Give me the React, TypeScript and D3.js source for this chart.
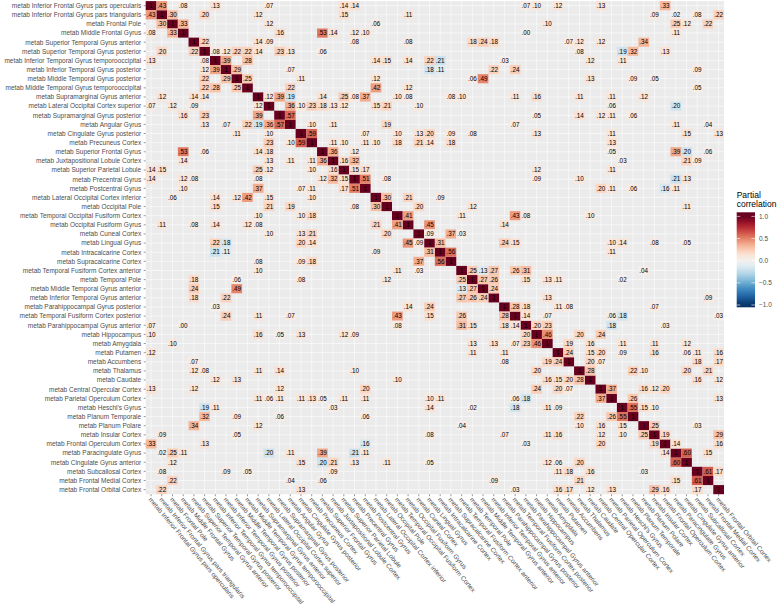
import React from "react";
import * as d3 from "d3";

const regions: string[] = [
  "metab Inferior Frontal Gyrus pars opercularis",
  "metab Inferior Frontal Gyrus pars triangularis",
  "metab Frontal Pole",
  "metab Middle Frontal Gyrus",
  "metab Superior Temporal Gyrus anterior",
  "metab Superior Temporal Gyrus posterior",
  "metab Inferior Temporal Gyrus temporooccipital",
  "metab Inferior Temporal Gyrus posterior",
  "metab Middle Temporal Gyrus posterior",
  "metab Middle Temporal Gyrus temporooccipital",
  "metab Supramarginal Gyrus anterior",
  "metab Lateral Occipital Cortex superior",
  "metab Supramarginal Gyrus posterior",
  "metab Angular Gyrus",
  "metab Cingulate Gyrus posterior",
  "metab Precuneus Cortex",
  "metab Superior Frontal Gyrus",
  "metab Juxtapositional Lobule Cortex",
  "metab Superior Parietal Lobule",
  "metab Precentral Gyrus",
  "metab Postcentral Gyrus",
  "metab Lateral Occipital Cortex inferior",
  "metab Occipital Pole",
  "metab Temporal Occipital Fusiform Cortex",
  "metab Occipital Fusiform Gyrus",
  "metab Cuneal Cortex",
  "metab Lingual Gyrus",
  "metab Intracalcarine Cortex",
  "metab Supracalcarine Cortex",
  "metab Temporal Fusiform Cortex anterior",
  "metab Temporal Pole",
  "metab Middle Temporal Gyrus anterior",
  "metab Inferior Temporal Gyrus anterior",
  "metab Parahippocampal Gyrus posterior",
  "metab Temporal Fusiform Cortex posterior",
  "metab Parahippocampal Gyrus anterior",
  "metab Hippocampus",
  "metab Amygdala",
  "metab Putamen",
  "metab Accumbens",
  "metab Thalamus",
  "metab Caudate",
  "metab Central Opercular Cortex",
  "metab Parietal Operculum Cortex",
  "metab Heschl's Gyrus",
  "metab Planum Temporale",
  "metab Planum Polare",
  "metab Insular Cortex",
  "metab Frontal Operculum Cortex",
  "metab Paracingulate Gyrus",
  "metab Cingulate Gyrus anterior",
  "metab Subcallosal Cortex",
  "metab Frontal Medial Cortex",
  "metab Frontal Orbital Cortex",
];

// upper triangle of the partial correlation matrix: [row, column, value], 1-based
const pairs: [number, number, number][] = [
  [1, 2, 0.43], [1, 4, 0.08], [1, 7, 0.13], [1, 12, 0.07], [1, 19, 0.14], [1, 20, 0.14], [1, 36, 0.07], [1, 37, 0.10], [1, 39, 0.12], [1, 43, 0.13], [1, 49, 0.33],
  [2, 3, 0.30], [2, 6, 0.20], [2, 11, 0.12], [2, 19, 0.15], [2, 25, 0.11], [2, 48, 0.09], [2, 50, 0.02], [2, 52, 0.08], [2, 54, 0.22],
  [3, 4, 0.33], [3, 12, 0.12], [3, 22, 0.06], [3, 38, 0.10], [3, 50, 0.25], [3, 51, 0.12], [3, 53, 0.22],
  [4, 13, 0.16], [4, 17, 0.53], [4, 18, 0.14], [4, 20, 0.12], [4, 21, 0.10], [4, 36, 0.004], [4, 50, 0.11],
  [5, 6, 0.22], [5, 11, 0.14], [5, 12, 0.09], [5, 20, 0.08], [5, 25, 0.08], [5, 31, 0.18], [5, 32, 0.24], [5, 33, 0.18], [5, 40, 0.07], [5, 41, 0.12], [5, 43, 0.12], [5, 47, 0.34],
  [6, 7, 0.08], [6, 8, 0.12], [6, 9, 0.22], [6, 10, 0.22], [6, 11, 0.14], [6, 13, 0.23], [6, 14, 0.13], [6, 17, 0.06], [6, 41, 0.08], [6, 45, -0.19], [6, 46, 0.32], [6, 49, 0.13],
  [7, 8, 0.39], [7, 10, 0.28], [7, 22, 0.14], [7, 23, 0.15], [7, 25, 0.14], [7, 27, 0.22], [7, 28, -0.21], [7, 34, 0.03], [7, 42, 0.12], [7, 45, 0.11],
  [8, 9, 0.29], [8, 14, 0.07], [8, 27, -0.18], [8, 28, -0.11], [8, 33, 0.22], [8, 35, 0.24], [8, 52, 0.09],
  [9, 10, 0.25], [9, 15, 0.11], [9, 22, 0.12], [9, 31, 0.06], [9, 32, 0.49], [9, 42, 0.13], [9, 46, 0.09], [9, 48, 0.05],
  [10, 14, 0.22], [10, 22, 0.42], [10, 25, 0.12], [10, 52, 0.05],
  [11, 12, 0.12], [11, 13, 0.39], [11, 14, -0.19], [11, 17, 0.14], [11, 19, 0.25], [11, 20, 0.08], [11, 21, 0.37], [11, 24, 0.10], [11, 25, 0.08], [11, 29, 0.08], [11, 30, 0.10], [11, 35, 0.11], [11, 37, 0.16], [11, 41, 0.11], [11, 44, 0.11], [11, 47, 0.12],
  [12, 14, 0.36], [12, 15, 0.10], [12, 16, 0.23], [12, 17, 0.18], [12, 18, 0.13], [12, 19, 0.12], [12, 22, 0.15], [12, 23, 0.21], [12, 26, 0.10], [12, 44, 0.06], [12, 50, -0.20],
  [13, 14, 0.57], [13, 37, 0.05], [13, 41, 0.14], [13, 43, 0.12], [13, 44, 0.11], [13, 46, 0.06],
  [14, 16, 0.10], [14, 18, 0.11], [14, 23, 0.19], [14, 35, 0.07], [14, 50, 0.11], [14, 53, 0.04],
  [15, 16, 0.59], [15, 21, 0.07], [15, 24, 0.10], [15, 26, 0.13], [15, 27, 0.20], [15, 29, 0.09], [15, 31, 0.08], [15, 37, 0.13], [15, 44, 0.11], [15, 51, 0.15], [15, 54, 0.13],
  [16, 18, 0.11], [16, 19, 0.10], [16, 21, 0.11], [16, 22, 0.10], [16, 24, 0.18], [16, 26, 0.21], [16, 27, 0.14], [16, 29, 0.18], [16, 44, 0.13],
  [17, 18, 0.36], [17, 20, 0.12], [17, 44, 0.05], [17, 50, 0.39], [17, 51, -0.20], [17, 53, 0.06],
  [18, 19, 0.16], [18, 20, 0.32], [18, 45, 0.03], [18, 51, 0.21], [18, 52, 0.09],
  [19, 20, 0.15], [19, 21, 0.17], [19, 37, 0.12], [19, 44, 0.11],
  [20, 21, 0.51], [20, 23, 0.08], [20, 37, 0.09], [20, 41, 0.10], [20, 50, -0.21], [20, 51, 0.13],
  [21, 43, 0.20], [21, 44, 0.11], [21, 46, 0.06], [21, 49, -0.16], [21, 50, 0.11],
  [22, 23, 0.30], [22, 25, 0.21], [22, 28, 0.09],
  [23, 26, 0.20], [23, 31, 0.12], [23, 51, 0.11],
  [24, 25, 0.41], [24, 30, 0.11], [24, 35, 0.43], [24, 36, 0.08], [24, 42, 0.10],
  [25, 27, 0.45], [25, 34, 0.14],
  [26, 27, 0.09], [26, 29, 0.37], [26, 30, 0.03],
  [27, 28, 0.31], [27, 34, 0.24], [27, 35, 0.15], [27, 44, 0.10], [27, 45, 0.14], [27, 48, 0.08], [27, 51, 0.05],
  [28, 29, 0.56], [28, 44, 0.11],
  [30, 31, 0.25], [30, 32, -0.13], [30, 33, 0.27], [30, 35, 0.26], [30, 36, 0.31], [30, 47, 0.04],
  [31, 32, 0.27], [31, 33, 0.26], [31, 36, 0.15], [31, 38, 0.13], [31, 39, 0.11], [31, 45, 0.02],
  [32, 33, 0.24],
  [33, 38, 0.13], [33, 53, 0.09],
  [34, 35, 0.28], [34, 36, 0.18], [34, 39, 0.11], [34, 40, 0.08], [34, 48, 0.07],
  [35, 36, 0.14], [35, 38, 0.07], [35, 44, 0.06], [35, 45, -0.18], [35, 54, 0.03],
  [36, 37, 0.20], [36, 38, 0.23], [36, 44, -0.18], [36, 49, 0.03],
  [37, 38, 0.46], [37, 41, 0.20], [37, 43, 0.24],
  [38, 40, 0.19], [38, 42, 0.16], [38, 45, 0.11], [38, 48, 0.11], [38, 51, 0.12],
  [39, 40, 0.24], [39, 42, 0.15], [39, 43, 0.20], [39, 45, 0.09], [39, 48, 0.16], [39, 51, 0.06], [39, 52, 0.11], [39, 54, 0.16],
  [40, 42, 0.20], [40, 43, 0.07], [40, 52, 0.18], [40, 54, 0.17],
  [41, 42, 0.28], [41, 46, 0.22], [41, 47, 0.10], [41, 51, 0.20], [41, 53, 0.21],
  [42, 52, 0.16], [42, 54, 0.12],
  [43, 44, 0.37], [43, 47, 0.16], [43, 48, 0.12], [43, 49, 0.20],
  [44, 46, 0.26], [44, 54, 0.13],
  [45, 46, 0.55], [45, 47, 0.15], [45, 48, 0.10],
  [47, 48, 0.25], [47, 52, 0.03],
  [48, 49, 0.19], [48, 54, 0.29],
  [49, 50, 0.14], [49, 54, 0.16],
  [50, 51, 0.60], [50, 53, 0.15],
  [52, 53, 0.61], [52, 54, 0.17],
];

const legendTicks: number[] = [1, 0.5, 0, -0.5, -1];
const legendTitle: string[] = ["Partial", "correlation"];

const W = 779;
const H = 611;
const P = { left: 145.7, right: 724, top: 1.1, bottom: 494.2 };
const FONT = "'Liberation Sans', Arial, Helvetica, sans-serif";

const fill = (v: number) => d3.interpolateRdBu((1 - v) / 2);
const fmt = (v: number) =>
  v === 1 ? "1" : d3.format(".2f")(Math.abs(v)).replace(/^0/, "");

export default function App() {
  const x = d3.scaleBand<string>().domain(regions).range([P.left, P.right]);
  const y = d3.scaleBand<string>().domain(regions).range([P.top, P.bottom]);
  const bw = x.bandwidth();
  const bh = y.bandwidth();

  const cells: { r: string; c: string; v: number }[] = [];
  regions.forEach((r) => cells.push({ r, c: r, v: 1 }));
  pairs.forEach(([i, j, v]) => {
    cells.push({ r: regions[i - 1], c: regions[j - 1], v });
    cells.push({ r: regions[j - 1], c: regions[i - 1], v });
  });

  const legY = d3.scaleLinear().domain([1, -1]).range([216.4, 305]);
  const bar = { x: 736.7, w: 18.3, top: 212.3, bottom: 307.3 };
  const gradStops = d3.range(0, 1.0001, 0.05);

  return (
    <svg
      width={W}
      height={H}
      style={{ position: "absolute", left: 0, top: 0, background: "#fff" }}
      fontFamily={FONT}
    >
      <defs>
        <linearGradient id="legGrad" x1="0" y1="0" x2="0" y2="1">
          {gradStops.map((t) => {
            const v = legY.invert(bar.top + t * (bar.bottom - bar.top));
            return (
              <stop key={t} offset={t} stopColor={fill(Math.max(-1, Math.min(1, v)))} />
            );
          })}
        </linearGradient>
      </defs>
      <rect x={P.left} y={P.top} width={P.right - P.left} height={P.bottom - P.top} fill="#EBEBEB" />
      <g stroke="#fff" strokeWidth={0.55}>
        {regions.map((r) => (
          <line key={"gx" + r} x1={x(r)! + bw / 2} x2={x(r)! + bw / 2} y1={P.top} y2={P.bottom} />
        ))}
        {regions.map((r) => (
          <line key={"gy" + r} y1={y(r)! + bh / 2} y2={y(r)! + bh / 2} x1={P.left} x2={P.right} />
        ))}
      </g>
      <g>
        {cells.map((d, k) => (
          <rect key={"c" + k} x={x(d.c)} y={y(d.r)} width={bw} height={bh} fill={fill(d.v)} />
        ))}
      </g>
      <g fontSize={6.3} fill="#000" textAnchor="middle">
        {cells.map((d, k) => (
          <text key={"t" + k} x={x(d.c)! + bw / 2} y={y(d.r)! + bh / 2} dy="0.36em">
            {fmt(d.v)}
          </text>
        ))}
      </g>
      <g fontSize={6.5} fill="#4D4D4D" textAnchor="end">
        {regions.map((r) => (
          <text key={"yl" + r} x={P.left - 4.5} y={y(r)! + bh / 2} dy="0.36em">
            {r}
          </text>
        ))}
      </g>
      <g stroke="#333" strokeWidth={0.5}>
        {regions.map((r) => (
          <line key={"yt" + r} x1={P.left - 2} x2={P.left} y1={y(r)! + bh / 2} y2={y(r)! + bh / 2} />
        ))}
        {regions.map((r) => (
          <line key={"xt" + r} y1={P.bottom} y2={P.bottom + 2} x1={x(r)! + bw / 2} x2={x(r)! + bw / 2} />
        ))}
      </g>
      <g fontSize={6.5} fill="#4D4D4D" textAnchor="start">
        {regions.map((r) => (
          <text
            key={"xl" + r}
            transform={`translate(${x(r)! + bw / 2 - 1},${P.bottom + 4}) rotate(50)`}
            dy="0.36em"
          >
            {r}
          </text>
        ))}
      </g>
      <g>
        {legendTitle.map((s, i) => (
          <text key={s} x={bar.x} y={198 + i * 9.3} fontSize={8.5} fill="#000">
            {s}
          </text>
        ))}
        <rect x={bar.x} y={bar.top} width={bar.w} height={bar.bottom - bar.top} fill="url(#legGrad)" />
        <g stroke="#fff" strokeWidth={0.6}>
          {legendTicks.map((t) => (
            <g key={"lt" + t}>
              <line x1={bar.x} x2={bar.x + 3.6} y1={legY(t)} y2={legY(t)} />
              <line x1={bar.x + bar.w - 3.6} x2={bar.x + bar.w} y1={legY(t)} y2={legY(t)} />
            </g>
          ))}
        </g>
        <g fontSize={6.5} fill="#4D4D4D">
          {legendTicks.map((t) => (
            <text key={"ll" + t} x={bar.x + bar.w + 4} y={legY(t)} dy="0.36em">
              {t === 0 ? "0.0" : d3.format(".1f")(t).replace("-", "\u2212")}
            </text>
          ))}
        </g>
      </g>
    </svg>
  );
}
